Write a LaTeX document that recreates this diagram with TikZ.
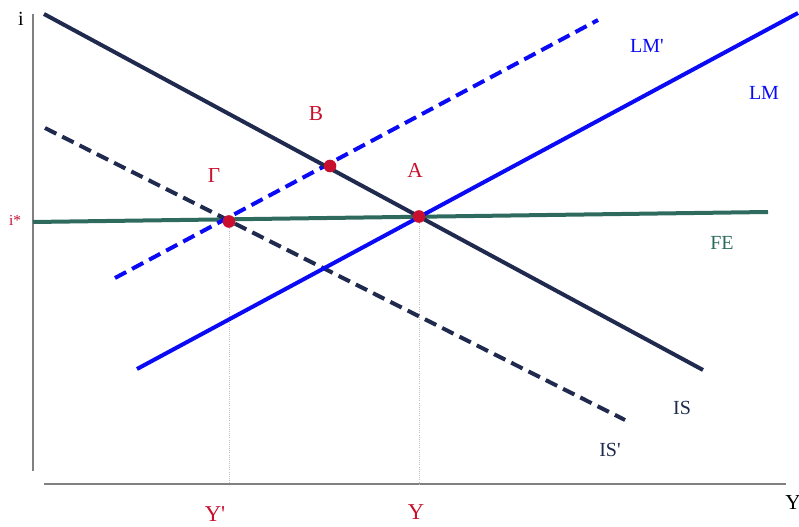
\documentclass[tikz,border=0pt]{standalone}
\usepackage{fontspec}
\setmainfont{Liberation Serif}[Ligatures=TeXOff]
\definecolor{isc}{HTML}{1F2A4E}
\definecolor{lmc}{HTML}{0A0AF5}
\definecolor{fec}{HTML}{2E6B5E}
\definecolor{ptc}{HTML}{C8102E}
\definecolor{axc}{HTML}{808080}
\tikzset{
  axis/.style={draw=axc, line width=1.5pt},
  isline/.style={draw=isc, line width=3pt},
  isdash/.style={isline, dash pattern=on 9.5pt off 5pt},
  lmline/.style={draw=lmc, line width=3pt},
  lmdash/.style={lmline, dash pattern=on 9.5pt off 5pt},
  feline/.style={draw=fec, line width=3pt},
  guide/.style={draw=gray!50, line width=0.6pt, densely dotted},
  pt/.style={circle, fill=ptc, inner sep=0pt, minimum size=9.5pt},
  lbl/.style={font=\fontsize{15}{15}\selectfont, inner sep=0pt},
  redl/.style={lbl, text=ptc},
}
\begin{document}
\begin{tikzpicture}[x=0.75pt, y=-0.75pt]
\useasboundingbox (0,0) rectangle (799,527);
% axes
\coordinate (yt) at (33,14);
\coordinate (yb) at (33,471);
\coordinate (xl) at (44,484);
\coordinate (xr) at (786,484);
\draw[axis] (yt) -- (yb);
\draw[axis] (xl) -- (xr);
% line endpoints
\coordinate (is1) at (44,14);
\coordinate (is2) at (703,370);
\coordinate (isp1) at (45,128);
\coordinate (isp2) at (625,420);
\coordinate (lm1) at (137,369);
\coordinate (lm2) at (798,13);
\coordinate (lmp1) at (115,278);
\coordinate (lmp2) at (598,20);
\coordinate (fe1) at (33,222);
\coordinate (fe2) at (768,212);
% guides
\coordinate (gY) at (229,484);
\coordinate (aY) at (419,484);
\draw[guide] (229,222) -- (gY);
\draw[guide] (419,217) -- (aY);
% curves
\draw[feline] (fe1) -- (fe2);
\draw[isdash] (isp1) -- (isp2);
\draw[lmdash] (lmp1) -- (lmp2);
\draw[isline] (is1) -- (is2);
\draw[lmline] (lm1) -- (lm2);
% points
\node[pt] (A) at (419,216.5) {};
\node[pt] (B) at (330,166) {};
\node[pt] (G) at (229,221.5) {};
% labels
\node[lbl, text=black] (li) at (21,19) {i};
\node[redl, font=\fontsize{11.5}{11.5}\selectfont] (listar) at (15,220) {i*};
\node[redl, font=\fontsize{17}{17}\selectfont] (lYp) at (215,514) {Y'};
\node[redl, font=\fontsize{17}{17}\selectfont] (lY) at (416,512) {Y};
\node[lbl, text=black, font=\fontsize{16}{16}\selectfont] (lYax) at (793,503) {Y};
\node[lbl, text=lmc] (lLMp) at (647,46) {LM'};
\node[lbl, text=lmc] (lLM) at (764,93) {LM};
\node[lbl, text=fec] (lFE) at (722,243) {FE};
\node[lbl, text=isc] (lIS) at (682,408) {IS};
\node[lbl, text=isc] (lISp) at (610,450) {IS'};
\node[redl, font=\fontsize{16}{16}\selectfont] (lB) at (316,114) {B};
\node[redl, font=\fontsize{16}{16}\selectfont] (lG) at (214,176) {Γ};
\node[redl, font=\fontsize{16}{16}\selectfont] (lA) at (415,170) {A};
\end{tikzpicture}
\end{document}
